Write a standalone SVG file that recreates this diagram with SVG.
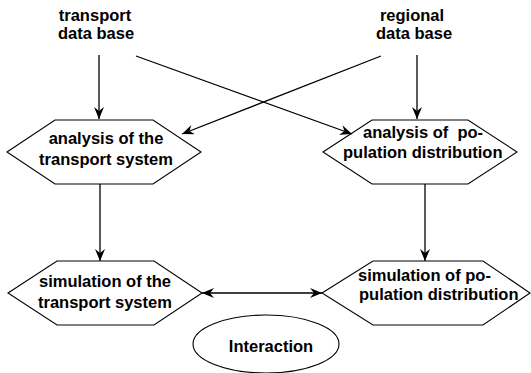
<svg xmlns="http://www.w3.org/2000/svg" width="531" height="373" viewBox="0 0 531 373">
<style>
text{font-family:"Liberation Sans",Arial,sans-serif;font-weight:bold;font-size:16.5px;fill:#000}
.shape{fill:#fff;stroke:#000;stroke-width:1.1}
.c{fill:none;stroke:#000;stroke-width:1.3}
</style>
<defs>
<marker id="ah" viewBox="0 0 12 10" refX="12" refY="5" markerWidth="12" markerHeight="10" markerUnits="userSpaceOnUse" orient="auto-start-reverse">
<path d="M0,0 L12,5 L0,10 L4,5 z" fill="#000"/>
</marker>
</defs>
<rect width="531" height="373" fill="#fff"/>
<g id="transport-db"><text x="95" y="21" text-anchor="middle">transport</text><text x="96" y="39" text-anchor="middle">data base</text></g>
<g id="regional-db"><text x="412" y="21" text-anchor="middle">regional</text><text x="414" y="39" text-anchor="middle">data base</text></g>
<g id="analysis-transport"><polygon class="shape" points="7,152 55,120 153,120 201,152 153,184 55,184"/><text x="106" y="144" text-anchor="middle">analysis of the</text><text x="106" y="165" text-anchor="middle">transport system</text></g>
<g id="analysis-population"><polygon class="shape" points="323,152 372,120 468,120 517,152 468,184 372,184"/><text x="363" y="138" xml:space="preserve">analysis of  po-</text><text x="343" y="158">pulation distribution</text></g>
<g id="simulation-transport"><polygon class="shape" points="8,293 57,261 154,261 202,293 154,325 57,325"/><text x="39" y="287">simulation of the</text><text x="38" y="308">transport system</text></g>
<g id="simulation-population"><polygon class="shape" points="322,293 373,261 483,261 530,293 483,325 373,325"/><text x="358" y="281">simulation of po-</text><text x="359" y="300">pulation distribution</text></g>
<g id="interaction"><ellipse class="shape" cx="266" cy="344" rx="73" ry="29"/><text x="271" y="352" text-anchor="middle">Interaction</text></g>
<g id="connectors">
<line class="c" x1="99" y1="55" x2="99" y2="119" marker-end="url(#ah)"/>
<line class="c" x1="417" y1="55" x2="417" y2="119" marker-end="url(#ah)"/>
<line class="c" x1="136" y1="56" x2="352" y2="134" marker-end="url(#ah)"/>
<line class="c" x1="381" y1="56" x2="182" y2="134" marker-end="url(#ah)"/>
<line class="c" x1="100" y1="184" x2="100" y2="261" marker-end="url(#ah)"/>
<line class="c" x1="425" y1="184" x2="425" y2="261" marker-end="url(#ah)"/>
<line class="c" x1="202" y1="293" x2="322" y2="293" marker-start="url(#ah)" marker-end="url(#ah)"/>
</g>
</svg>
